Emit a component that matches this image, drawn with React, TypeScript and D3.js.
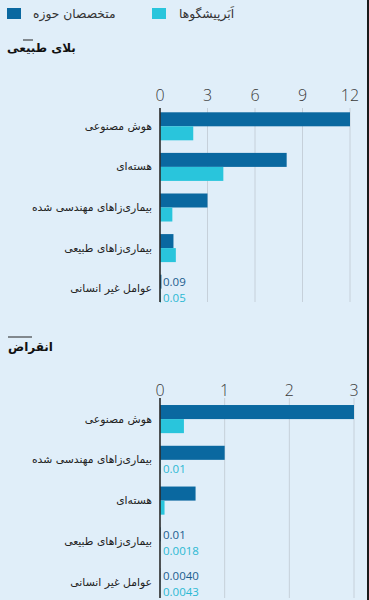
import React from "react";
import * as d3 from "d3";

const legendLabels = ["متخصصان حوزه", "اَبَرپیشگوها"];
const titleTop = "بلای طبیعی";
const titleBottom = "انقراض";

const categoriesTop = ["هوش مصنوعی", "هسته‌ای", "بیماری‌زاهای مهندسی شده", "بیماری‌زاهای طبیعی", "عوامل غیر انسانی"];
const expertsTop = [12, 8, 3, 0.85, 0.09];
const superTop = [2.1, 4, 0.78, 1.0, 0.05];
const ticksTop = [0, 3, 6, 9, 12];

const categoriesBottom = ["هوش مصنوعی", "بیماری‌زاهای مهندسی شده", "هسته‌ای", "بیماری‌زاهای طبیعی", "عوامل غیر انسانی"];
const expertsBottom = [3, 1, 0.55, 0.01, 0.004];
const superBottom = [0.37, 0.01, 0.07, 0.0018, 0.0043];
const ticksBottom = [0, 1, 2, 3];

const W = 369;
const H = 600;
const BG = "#e0eef9";
const DARK = "#0a68a0";
const LIGHT = "#29c5dc";
const DARK_TXT = "#1b5d8e";
const LIGHT_TXT = "#2bb9d3";
const GRID = "#c6d0da";
const FA = "'DejaVu Sans', sans-serif";
const NUM = "'Open Sans', 'Segoe UI', sans-serif";

const fmt = (v: number) => (v >= 0.01 ? v.toFixed(2) : v.toFixed(4));

type PanelProps = {
  cats: string[];
  a: number[];
  b: number[];
  ticks: number[];
  xRange: [number, number];
  yRange: [number, number];
  axisY: [number, number];
  tickY: number;
};

function Panel({ cats, a, b, ticks, xRange, yRange, axisY, tickY }: PanelProps) {
  const x = d3.scaleLinear().domain([0, ticks[ticks.length - 1]]).range(xRange);
  const y = d3.scaleBand<string>().domain(cats).range(yRange).paddingInner(0.31).paddingOuter(0.155);
  const sub = d3.scaleBand<string>().domain(["a", "b"]).range([0, y.bandwidth()]);
  const series = [
    { key: "a", vals: a, fill: DARK, txt: DARK_TXT, dy: 0 },
    { key: "b", vals: b, fill: LIGHT, txt: LIGHT_TXT, dy: 2 },
  ];
  return (
    <g>
      {ticks.map((t) => (
        <g key={t}>
          {t !== 0 && (
            <line x1={x(t)} x2={x(t)} y1={axisY[0]} y2={axisY[1]} stroke={GRID} strokeWidth={1} />
          )}
          <text x={x(t)} y={tickY} textAnchor="middle" fontFamily={NUM} fontWeight={300} fontSize={16} fill="#3a3a3a">
            {t}
          </text>
        </g>
      ))}
      {cats.map((c, i) => {
        const y0 = y(c) as number;
        return (
          <g key={c}>
            <text x={152} y={y0 + y.bandwidth() / 2} textAnchor="end" dominantBaseline="central" fontFamily={FA} fontSize={10.8} fill="#222">
              {c}
            </text>
            {series.map((s) => {
              const v = s.vals[i];
              const by = y0 + (sub(s.key) as number);
              const w = x(v) - x(0);
              return (
                <g key={s.key}>
                  <rect x={x(0)} y={by} width={w} height={sub.bandwidth()} fill={s.fill} />
                  {w < 2 && (
                    <text x={x(0) + 3} y={by + sub.bandwidth() / 2 + s.dy} dominantBaseline="central" fontFamily={NUM} fontSize={11.5} fill={s.txt}>
                      {fmt(v)}
                    </text>
                  )}
                </g>
              );
            })}
          </g>
        );
      })}
      <line x1={x(0)} x2={x(0)} y1={axisY[0]} y2={axisY[1]} stroke="#2a2a2a" strokeWidth={1.6} />
    </g>
  );
}

export default function App() {
  return (
    <svg width={W} height={H} style={{ position: "absolute", left: 0, top: 0, display: "block" }}>
      <rect x={0} y={0} width={W} height={H} fill={BG} />
      <rect x={367} y={0} width={2} height={H} fill="#1a1a1a" />
      {/* legend */}
      <rect x={7} y={8} width={14} height={11} fill={DARK} />
      <text x={33} y={14} dominantBaseline="central" fontFamily={FA} fontSize={12.3} fill="#333">
        {legendLabels[0]}
      </text>
      <rect x={152} y={8} width={14} height={11} fill={LIGHT} />
      <text x={179} y={14} dominantBaseline="central" fontFamily={FA} fontSize={12.3} fill="#333">
        {legendLabels[1]}
      </text>
      {/* titles */}
      <line x1={23} x2={33} y1={40} y2={40} stroke="#222" strokeWidth={1} />
      <text x={7} y={52} fontFamily={FA} fontWeight="bold" fontSize={12} fill="#111">
        {titleTop}
      </text>
      <line x1={8} x2={32} y1={337} y2={337} stroke="#222" strokeWidth={1} />
      <text x={8} y={351} fontFamily={FA} fontWeight="bold" fontSize={12} fill="#111">
        {titleBottom}
      </text>
      <Panel
        cats={categoriesTop}
        a={expertsTop}
        b={superTop}
        ticks={ticksTop}
        xRange={[160, 350]}
        yRange={[106, 309]}
        axisY={[108, 302]}
        tickY={101}
      />
      <Panel
        cats={categoriesBottom}
        a={expertsBottom}
        b={superBottom}
        ticks={ticksBottom}
        xRange={[160, 354]}
        yRange={[398.7, 602.5]}
        axisY={[398, 598]}
        tickY={396}
      />
    </svg>
  );
}
